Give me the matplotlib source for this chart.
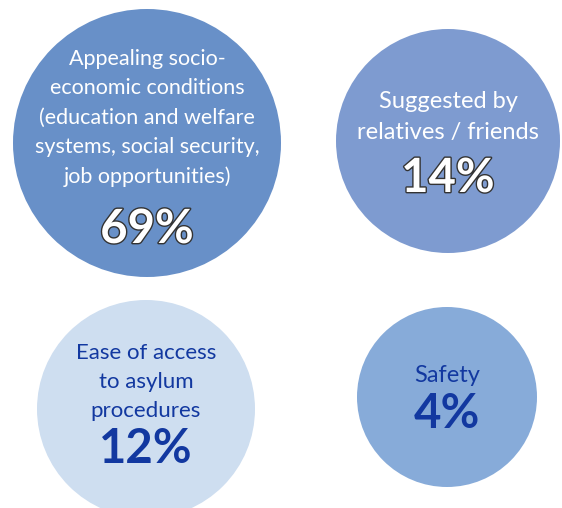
import matplotlib.pyplot as plt
import matplotlib.patches as mpatches
import matplotlib.patheffects as pe

# Data: reasons for choosing the destination country
labels = [
    "Appealing socio-\neconomic conditions\n(education and welfare\nsystems, social security,\njob opportunities)",
    "Suggested by\nrelatives / friends",
    "Ease of access\nto asylum\nprocedures",
    "Safety",
]
shares = [69, 14, 12, 4]

# Layout of the bubbles (pixels, y downwards)
centers = [(147, 143), (448, 141), (146, 409), (447, 397)]
radii = [134, 112, 109, 90]
fills = ["#6890c8", "#7e9bd0", "#cedef0", "#87abd9"]
text_cols = ["white", "white", "#1238a0", "#1238a0"]
label_size = [15.5, 17, 16, 17]
label_y = [118, 117, 382, 376]
pct_y = [229, 178, 449, 414]

plt.rcParams['font.family'] = ['Lato', 'DejaVu Sans']

fig = plt.figure(figsize=(5.62, 5.08), dpi=100)
ax = fig.add_axes([0, 0, 1, 1])
ax.set_xlim(0, 562)
ax.set_ylim(508, 0)
ax.set_aspect('equal')
ax.axis('off')

for i in range(len(labels)):
    cx, cy = centers[i]
    ax.add_patch(mpatches.Circle((cx, cy), radii[i], color=fills[i], lw=0))
    ax.text(cx, label_y[i], labels[i], ha='center', va='center',
            fontsize=label_size[i], color=text_cols[i], linespacing=1.58)
    t = ax.text(cx, pct_y[i], f"{shares[i]}%", ha='center', va='center',
                fontsize=34, fontweight='bold', color=text_cols[i])
    if text_cols[i] == "white":
        t.set_path_effects([pe.withStroke(linewidth=2, foreground="#333333")])

fig.savefig("out.png", dpi=100)
